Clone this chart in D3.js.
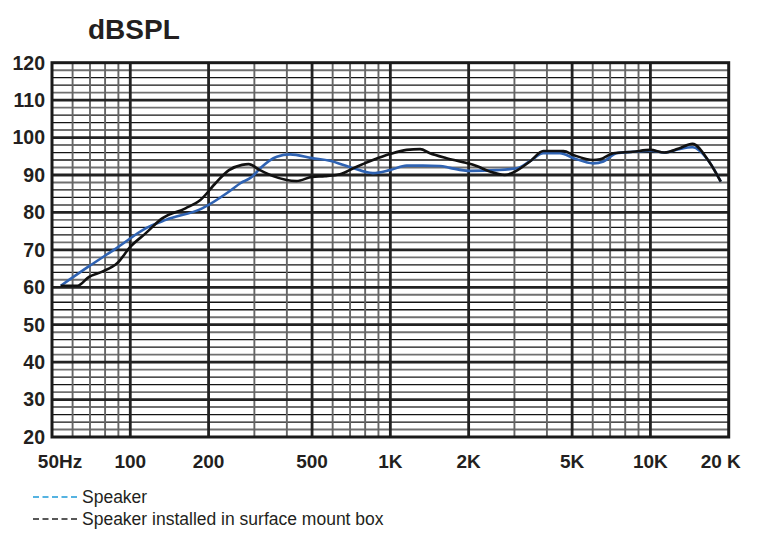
<!DOCTYPE html>
<html>
<head>
<meta charset="utf-8">
<script src="https://cdn.jsdelivr.net/npm/d3@7"></script>
<style>
  body { margin: 0; background: #fff; }
  svg { display: block; font-family: "Liberation Sans", Arial, sans-serif; }
</style>
</head>
<body>
<div id="chart"></div>
<script>
// ===== DATA =====
const speakerFreq = [54, 69, 90, 115, 137, 189, 240, 265, 294, 316, 366, 412, 500, 585, 700, 857, 996, 1155, 1335, 1552, 1694, 2022, 2556, 3070, 3441, 3875, 4490, 5070, 6030, 6600, 7400, 8560, 10000, 11300, 12870, 14500, 16800, 18650];
const speakerDb   = [60.4, 65.5, 70.8, 75.8, 78.0, 81.1, 85.6, 87.8, 89.5, 91.8, 94.9, 95.5, 94.5, 93.8, 92.1, 90.5, 91.3, 92.5, 92.5, 92.4, 91.9, 91.1, 91.3, 91.8, 93.7, 95.8, 95.8, 94.5, 93.1, 93.6, 95.8, 96.2, 96.5, 96.0, 96.9, 97.4, 93.6, 88.2];

const boxFreq = [54, 62.6, 69.4, 78, 89, 100, 114.5, 132.6, 163, 186, 212.6, 239.6, 269, 285, 315, 354, 436, 500, 560, 640, 720, 857, 996, 1155, 1302, 1420, 1645, 1907, 2146, 2414, 2756, 3014, 3441, 3875, 4630, 5070, 6030, 6400, 7195, 8560, 10000, 11300, 12870, 14500, 16800, 18650];
const boxDb   = [60.4, 60.4, 62.8, 64.2, 66.4, 70.8, 74.4, 78.4, 81.1, 83.3, 87.8, 91.3, 92.7, 92.9, 91.3, 89.7, 88.4, 89.5, 89.7, 90.2, 91.8, 94.0, 95.6, 96.7, 96.9, 95.8, 94.5, 93.4, 92.4, 90.9, 90.0, 90.9, 93.6, 96.4, 96.4, 95.3, 94.0, 94.2, 95.8, 96.2, 96.7, 96.0, 97.1, 98.3, 93.6, 88.2];

// grid + tick labels
const majorFreqs = [100, 200, 500, 1000, 2000, 5000, 10000];
const minorFreqs = [60, 70, 80, 90, 300, 400, 600, 700, 800, 900, 3000, 4000, 6000, 7000, 8000, 9000];
const xTickValues = [50, 100, 200, 500, 1000, 2000, 5000, 10000, 20000];
const xTickLabels = ["50Hz", "100", "200", "500", "1K", "2K", "5K", "10K", "20 K"];
const yTickValues = [20, 30, 40, 50, 60, 70, 80, 90, 100, 110, 120];

const legendLabels = ["Speaker", "Speaker installed in surface mount box"];

// ===== LAYOUT =====
const W = 758, H = 536;
const plot = { left: 52, right: 728.7, top: 62.7, bottom: 437 };

const svg = d3.select("#chart").append("svg")
  .attr("width", W)
  .attr("height", H);

svg.append("rect").attr("width", W).attr("height", H).attr("fill", "#fff");

const x = d3.scaleLog().domain([50, 20000]).range([plot.left, plot.right]);
const y = d3.scaleLinear().domain([20, 120]).range([plot.bottom, plot.top]);

// ===== GRID =====
const grid = svg.append("g");

// horizontal minor lines every 2 dB
const minorDb = d3.range(22, 120, 2).filter(d => d % 10 !== 0);
const isGrey = d => d % 10 === 2 || d % 10 === 8;
grid.selectAll(".hminor")
  .data(minorDb)
  .enter().append("line")
  .attr("x1", plot.left).attr("x2", plot.right)
  .attr("y1", d => y(d)).attr("y2", d => y(d))
  .attr("stroke", d => isGrey(d) ? "#707070" : "#141414")
  .attr("stroke-width", d => isGrey(d) ? 1.9 : 1.3);

// vertical minor lines
grid.selectAll(".vminor")
  .data(minorFreqs)
  .enter().append("line")
  .attr("x1", d => x(d)).attr("x2", d => x(d))
  .attr("y1", plot.top).attr("y2", plot.bottom)
  .attr("stroke", "#666")
  .attr("stroke-width", 1.9);

// horizontal major lines every 10 dB
grid.selectAll(".hmajor")
  .data(yTickValues.slice(1, -1))
  .enter().append("line")
  .attr("x1", plot.left).attr("x2", plot.right)
  .attr("y1", d => y(d)).attr("y2", d => y(d))
  .attr("stroke", "#222")
  .attr("stroke-width", 2.8);

// vertical major lines
grid.selectAll(".vmajor")
  .data(majorFreqs)
  .enter().append("line")
  .attr("x1", d => x(d)).attr("x2", d => x(d))
  .attr("y1", plot.top).attr("y2", plot.bottom)
  .attr("stroke", "#222")
  .attr("stroke-width", 2.8);

// frame
grid.append("rect")
  .attr("x", plot.left).attr("y", plot.top)
  .attr("width", plot.right - plot.left)
  .attr("height", plot.bottom - plot.top)
  .attr("fill", "none")
  .attr("stroke", "#1a1a1a")
  .attr("stroke-width", 3);

// ===== CURVES =====
const line = d3.line()
  .x(d => x(d[0]))
  .y(d => y(d[1]))
  .curve(d3.curveMonotoneX);

svg.append("path")
  .datum(d3.zip(speakerFreq, speakerDb))
  .attr("d", line)
  .attr("fill", "none")
  .attr("stroke", "#2f63b3")
  .attr("stroke-width", 2.6)
  .attr("stroke-linejoin", "round");

svg.append("path")
  .datum(d3.zip(boxFreq, boxDb))
  .attr("d", line)
  .attr("fill", "none")
  .attr("stroke", "#111")
  .attr("stroke-width", 2.6)
  .attr("stroke-linejoin", "round");

// ===== AXES LABELS =====
svg.append("text")
  .attr("x", 88).attr("y", 39)
  .attr("font-size", 28)
  .attr("font-weight", "bold")
  .attr("fill", "#231f20")
  .text("dBSPL");

svg.selectAll(".ylab")
  .data(yTickValues)
  .enter().append("text")
  .attr("x", 45)
  .attr("y", d => y(d))
  .attr("dy", "0.35em")
  .attr("text-anchor", "end")
  .attr("font-size", 19.5)
  .attr("font-weight", "bold")
  .attr("fill", "#231f20")
  .text(d => d);

svg.selectAll(".xlab")
  .data(xTickValues)
  .enter().append("text")
  .attr("x", (d, i) => x(d) + (i === 0 ? 8 : i === xTickValues.length - 1 ? -8 : 0))
  .attr("y", 468)
  .attr("text-anchor", "middle")
  .attr("font-size", 19)
  .attr("font-weight", "bold")
  .attr("fill", "#231f20")
  .text((d, i) => xTickLabels[i]);

// ===== LEGEND =====
const legendColors = ["#1e9ad8", "#222"];
const legend = svg.selectAll(".leg")
  .data(legendLabels)
  .enter().append("g")
  .attr("transform", (d, i) => `translate(33, ${497 + i * 22})`);

legend.append("line")
  .attr("x1", 0).attr("x2", 46)
  .attr("stroke", (d, i) => legendColors[i])
  .attr("stroke-width", 1.3)
  .attr("stroke-dasharray", "6,3.5");

legend.append("text")
  .attr("x", 49)
  .attr("dy", "0.35em")
  .attr("font-size", 17.5)
  .attr("fill", "#231f20")
  .text(d => d);
</script>
</body>
</html>
